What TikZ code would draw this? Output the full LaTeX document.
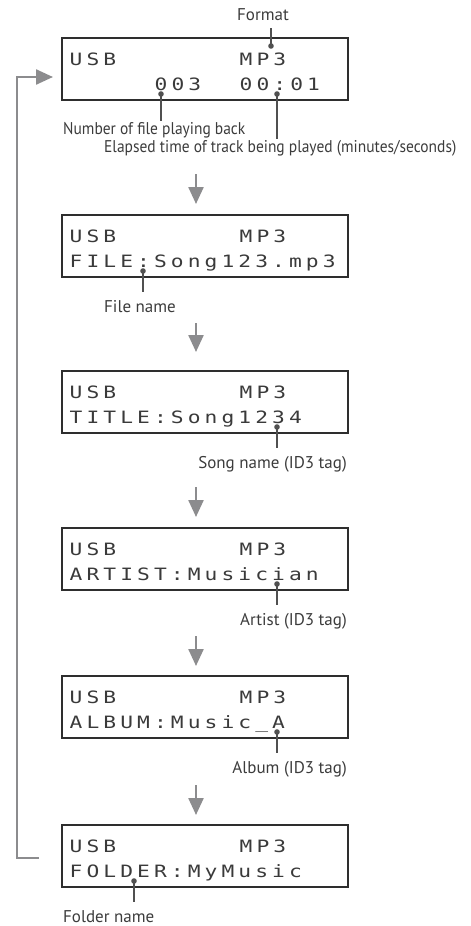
\documentclass[tikz,border=0pt]{standalone}
\usepackage{fontspec}
\setmainfont{PT Sans}
\newfontfamily\condfont{PT Sans}[FakeStretch=0.91]
\newfontfamily\lcdfont{DejaVu Sans Mono}[FakeStretch=1.25, LetterSpace=24]
\usepackage{xcolor}
\usetikzlibrary{positioning,arrows.meta}
\definecolor{boxline}{HTML}{2E2E2E}
\definecolor{lcdink}{HTML}{3A3A3A}
\definecolor{notetext}{HTML}{3C3C3C}
\definecolor{calloutgray}{HTML}{505050}
\definecolor{flowgray}{HTML}{8C8C8E}

\begin{document}
\begin{tikzpicture}[x=1pt, y=1pt, node distance=115pt,
  display/.style={draw=boxline, line width=1.4pt, minimum width=286pt, minimum height=62pt, inner sep=0pt, outer sep=0pt},
  lcd/.style={font=\lcdfont\fontsize{17}{17}\selectfont, text=lcdink, inner sep=0pt, anchor=base west},
  note/.style={font=\fontsize{17}{20}\selectfont, text=notetext, inner sep=1pt},
  longnote/.style={note, font=\condfont\fontsize{17}{20}\selectfont},
  callout/.style={draw=calloutgray, line width=2.2pt},
  flow/.style={-{Triangle[length=17pt, width=15pt]}, draw=flowgray, line width=2.4pt}]
\useasboundingbox (0,0) rectangle (471,-926);

\node [display] (b1) at (205,-69) {};
\node [display] (b2) [below=115pt of b1] {};
\node [display] (b3) [below=94pt of b2] {};
\node [display] (b4) [below=95pt of b3] {};
\node [display] (b5) [below=86pt of b4] {};
\node [display] (b6) [below=87pt of b5] {};

\foreach \b in {b1,b2,b3,b4,b5,b6} {
  \node [lcd] (\b-src) at ([shift={(7.5pt,-27.5pt)}]\b.north west) {USB};
  \node [lcd] (\b-fmt) at ([shift={(177.5pt,-27.5pt)}]\b.north west) {MP3};
}
\node [lcd] (b1-num) at ([shift={(92.5pt,-52pt)}]b1.north west) {003};
\node [lcd] (b1-time) at ([shift={(177.5pt,-52pt)}]b1.north west) {00:01};
\foreach \b/\t in {b2/FILE:Song123.mp3, b3/TITLE:Song1234, b4/ARTIST:Musician, b5/ALBUM:Music\_A, b6/FOLDER:MyMusic}
  \node [lcd] (\b-info) at ([shift={(7.5pt,-52pt)}]\b.north west) {\t};

\coordinate (dfmt) at ([shift={(209pt,-8pt)}]b1.north west);
\coordinate (dnum) at ([shift={(99pt,6pt)}]b1.south west);
\coordinate (dtime) at ([shift={(215pt,6pt)}]b1.south west);
\coordinate (dfile) at ([shift={(81pt,6pt)}]b2.south west);
\coordinate (dsong) at ([shift={(215pt,6pt)}]b3.south west);
\coordinate (dart) at ([shift={(215pt,6pt)}]b4.south west);
\coordinate (dalb) at ([shift={(215pt,6pt)}]b5.south west);
\coordinate (dfold) at ([shift={(72pt,6pt)}]b6.south west);

\node [note, anchor=base] (lfmt) at ([shift={(-8pt,26pt)}]dfmt) {Format};
\node [longnote, anchor=base west] (lnum) at ([yshift=-40pt]dnum -| b1.west) {Number of file playing back};
\node [longnote, anchor=base west] (ltime) at ([shift={(-174pt,-58pt)}]dtime) {Elapsed time of track being played (minutes/seconds)};
\node [note, anchor=base west] (lfile) at ([shift={(-40pt,-41pt)}]dfile) {File name};
\node [note, anchor=base east] (lsong) at ([yshift=-41pt]dsong -| b3.east) {Song name (ID3 tag)};
\node [note, anchor=base east] (lart) at ([yshift=-41pt]dart -| b4.east) {Artist (ID3 tag)};
\node [note, anchor=base east] (lalb) at ([yshift=-41pt]dalb -| b5.east) {Album (ID3 tag)};
\node [note, anchor=base west] (lfold) at ([yshift=-41pt]dfold -| b6.west) {Folder name};

\draw [callout, shorten >=7pt] (dfmt) -- (dfmt |- lfmt.south);
\draw [callout] (dnum) -- (dnum |- lnum.north);
\draw [callout] (dtime) -- (dtime |- ltime.north);
\foreach \d/\l in {dfile/lfile, dsong/lsong, dart/lart, dalb/lalb, dfold/lfold}
  \draw [callout, shorten >=7pt] (\d) -- (\d |- \l.north);
\foreach \d in {dfmt,dnum,dtime,dfile,dsong,dart,dalb,dfold}
  \fill [calloutgray] (\d) circle (2.8pt);

\foreach \a/\b/\s/\e in {b1/b2/74/11, b2/b3/46/19, b3/b4/54/11, b4/b5/46/10, b5/b6/47/10}
  \draw [flow, shorten <=\s pt, shorten >=\e pt] ([xshift=-9pt]\a.south) -- ([xshift=-9pt]\b.north);

\draw [flow] ([shift={(-23pt,-2pt)}]b6.west) -- ++(-22pt,0) |- ([shift={(-9pt,-8pt)}]b1.west);
\end{tikzpicture}
\end{document}
